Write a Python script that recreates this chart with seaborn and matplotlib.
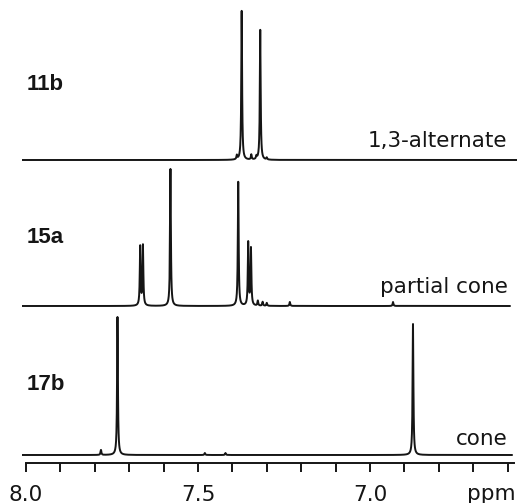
import numpy as np
import pandas as pd
import matplotlib
matplotlib.use("Agg")
import matplotlib.pyplot as plt
import seaborn as sns

# ---- data ----
compounds = ["11b", "15a", "17b"]
conformations = ["1,3-alternate", "partial cone", "cone"]

shifts_11b = [7.373, 7.319, 7.387, 7.345, 7.330, 7.300]
heights_11b = [149, 130, 4, 5, 3, 2]

shifts_15a = [7.668, 7.660, 7.580, 7.383, 7.354, 7.346, 7.326, 7.312, 7.300, 7.233, 6.933]
heights_15a = [59, 60, 137, 124, 63, 57, 5, 4, 3, 4, 4]

shifts_17b = [7.734, 6.875, 7.782, 7.480, 7.420]
heights_17b = [138, 131, 5, 2, 2]

tick_values = [8.0, 7.9, 7.8, 7.7, 7.6, 7.5, 7.4, 7.3, 7.2, 7.1, 7.0, 6.9, 6.8, 6.7, 6.6]
tick_labels = ["8.0", "", "", "", "", "7.5", "", "", "", "", "7.0", "", "", "", ""]

# ---- layout (pixel-like vertical units, 0 = axis line) ----
W, H = 527, 503
offsets = {"11b": 303, "15a": 157, "17b": 8}
ranges = {"11b": (8.012, 6.573), "15a": (8.012, 6.593), "17b": (8.012, 6.587)}
hwhm = 0.0014

def spectrum(shifts, heights, lo, hi):
    x = np.linspace(hi, lo, 24000)
    x = np.sort(np.concatenate([x, np.array(shifts)]))
    y = np.zeros_like(x)
    for s, h in zip(shifts, heights):
        y += h * hwhm**2 / ((x - s) ** 2 + hwhm**2)
    return x, y

frames = []
for name, sh, hh in [("11b", shifts_11b, heights_11b),
                     ("15a", shifts_15a, heights_15a),
                     ("17b", shifts_17b, heights_17b)]:
    lo, hi = ranges[name]
    x, y = spectrum(sh, hh, lo, hi)
    frames.append(pd.DataFrame({"ppm": x, "y": y + offsets[name], "compound": name}))
df = pd.concat(frames, ignore_index=True)

sns.set_theme(style="white")
plt.rcParams["font.family"] = ["DejaVu Sans"]

fig = plt.figure(figsize=(W / 100, H / 100), dpi=100)
ax = fig.add_axes([22 / W, (H - 463) / H, 495 / W, 463 / H])

sns.lineplot(data=df, x="ppm", y="y", units="compound", estimator=None,
             sort=False, color="#151515", linewidth=1.4, ax=ax, legend=False)

ax.set_xlim(8.0116, 6.5727)
ax.set_ylim(0, 463)
for s in ["top", "left", "right"]:
    ax.spines[s].set_visible(False)
ax.spines["bottom"].set_bounds(8.0, 6.58)
ax.spines["bottom"].set_linewidth(1.4)
ax.spines["bottom"].set_color("#151515")
ax.set_xticks(tick_values)
ax.set_xticklabels(tick_labels)
ax.set_yticks([])
ax.tick_params(axis="x", direction="out", length=6.5, width=1.4, color="#151515",
               pad=9, labelsize=15.5, labelcolor="#151515", bottom=True)
ax.set_xlabel("")
ax.set_ylabel("")

# ppm unit label
ax.text(6.648, 463 - 500, "ppm", ha="center", va="baseline", fontsize=15.5,
        color="#151515", clip_on=False)

# compound labels (bold) and conformation labels
label_base = {"11b": 463 - 90, "15a": 463 - 243, "17b": 463 - 390}
conf_base = {"11b": 463 - 147, "15a": 463 - 293, "17b": 463 - 445}
for c, conf in zip(compounds, conformations):
    ax.text(7.997, label_base[c], c, ha="left", va="baseline", fontsize=16,
            fontweight="bold", family=["Liberation Sans", "DejaVu Sans"], color="#151515")
    ax.text(6.6, conf_base[c], conf, ha="right", va="baseline", fontsize=15.5,
            color="#151515")

fig.savefig("out.png", dpi=100)
